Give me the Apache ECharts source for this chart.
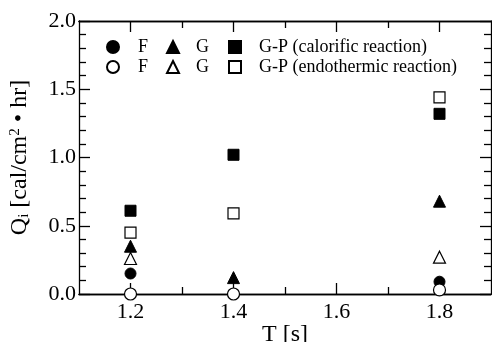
<!DOCTYPE html>
<html>
<head>
<meta charset="utf-8">
<script src="https://cdn.jsdelivr.net/npm/echarts@6/dist/echarts.min.js"></script>
<style>
  html, body { margin: 0; padding: 0; background: #fff; }
  #chart { width: 492px; height: 342px; }
</style>
</head>
<body>
<div id="chart"></div>
<script>
// Heat flux Qi versus wave period T
const periods = [1.2, 1.4, 1.8];

// Calorific reaction (filled markers)
const fCalorific  = [0.15, 0.00, 0.09];
const gCalorific  = [0.35, 0.12, 0.68];
const gpCalorific = [0.61, 1.02, 1.32];

// Endothermic reaction (open markers)
const fEndothermic  = [0.00, 0.00, 0.03];
const gEndothermic  = [0.26, null, 0.27];
const gpEndothermic = [0.45, 0.59, 1.44];

// Axis ticks
const xMajorTicks = [1.2, 1.4, 1.6, 1.8];
const xMinorTicks = [1.3, 1.5, 1.7];

const FONT = '"Liberation Serif", "Times New Roman", serif';

function pairs(vals) {
  return periods.map((t, i) => [t, vals[i]]).filter(p => p[1] !== null);
}

const filled = { color: '#000', borderColor: '#000', borderWidth: 1, opacity: 1 };
const open = { color: '#fff', borderColor: '#000', borderWidth: 1.2, opacity: 1 };

const seriesDefs = [
  { name: 'G-P (calorific reaction)', symbol: 'rect', size: 11, style: filled, data: gpCalorific },
  { name: 'G-P (endothermic reaction)', symbol: 'rect', size: 11, style: open, data: gpEndothermic },
  { name: 'G (calorific)', symbol: 'triangle', size: 12, style: filled, data: gCalorific },
  { name: 'G (endothermic)', symbol: 'triangle', size: 12, style: open, data: gEndothermic },
  { name: 'F (calorific)', symbol: 'circle', size: 11, style: filled, data: fCalorific },
  { name: 'F (endothermic)', symbol: 'circle', size: 12, style: open, data: fEndothermic }
];

const series = seriesDefs.map(d => ({
  type: 'scatter',
  name: d.name,
  symbol: d.symbol,
  symbolSize: d.size,
  itemStyle: d.style,
  emphasis: { disabled: true },
  data: pairs(d.data),
  xAxisIndex: 0,
  yAxisIndex: 0,
  z: 3
}));

// One legend entry per marker, laid out in two rows
const legendSpec = [
  { name: 'F (calorific)', label: 'F', left: 106, top: 38, pad: 14 },
  { name: 'G (calorific)', label: 'G', left: 166, top: 38, pad: 12 },
  { name: 'G-P (calorific reaction)', label: 'G-P (calorific reaction)', left: 228, top: 38, pad: 13 },
  { name: 'F (endothermic)', label: 'F', left: 106, top: 58, pad: 14 },
  { name: 'G (endothermic)', label: 'G', left: 166, top: 58, pad: 12 },
  { name: 'G-P (endothermic reaction)', label: 'G-P (endothermic reaction)', left: 228, top: 58, pad: 13 }
];

const legends = legendSpec.map(l => ({
  data: [l.name],
  left: l.left,
  top: l.top,
  padding: 0,
  itemWidth: 12,
  itemHeight: 12,
  selectedMode: false,
  formatter: () => l.label,
  textStyle: { fontFamily: FONT, fontSize: 18, color: '#000', lineHeight: 18, padding: [0, 0, 0, l.pad] }
}));

const lineStyle = { color: '#000', width: 1.3 };
const xBase = { type: 'value', min: 1.1, max: 1.9, splitLine: { show: false }, axisLine: { show: true, onZero: false, lineStyle } };

function xAxisDef(position, ticks, len, showLabels) {
  return Object.assign({}, xBase, {
    position,
    axisTick: { show: true, inside: true, length: len, customValues: ticks, lineStyle },
    axisLabel: showLabels
      ? { show: true, customValues: xMajorTicks, fontFamily: FONT, fontSize: 22, color: '#000', margin: 7, formatter: v => v.toFixed(1) }
      : { show: false }
  });
}

const xAxes = [
  Object.assign(xAxisDef('bottom', xMajorTicks, 11, true), {
    name: 'T [s]', nameLocation: 'middle', nameGap: 29, nameMoveOverlap: false,
    nameTextStyle: { fontFamily: FONT, fontSize: 24, color: '#000' }
  }),
  xAxisDef('bottom', xMinorTicks, 7, false),
  xAxisDef('top', xMajorTicks, 11, false),
  xAxisDef('top', xMinorTicks, 7, false)
];

function yAxisDef(position, showLabels) {
  return {
    type: 'value', position, min: 0, max: 2, interval: 0.5,
    splitLine: { show: false },
    axisLine: { show: true, onZero: false, lineStyle },
    axisTick: { show: true, inside: true, length: 11, lineStyle },
    minorTick: { show: true, splitNumber: 5, length: 7, lineStyle },
    axisLabel: showLabels
      ? { show: true, fontFamily: FONT, fontSize: 22, color: '#000', margin: 3, formatter: v => v.toFixed(1) }
      : { show: false }
  };
}

const yAxes = [
  Object.assign(yAxisDef('left', true), {
    name: 'Q{sub|i} [cal/cm{sup|2} • hr]',
    nameLocation: 'middle', nameGap: 47, nameMoveOverlap: false,
    nameTextStyle: {
      fontFamily: FONT, fontSize: 24, color: '#000',
      rich: {
        sub: { fontFamily: FONT, fontSize: 15, color: '#000', verticalAlign: 'bottom', padding: [8, 0, 0, 0] },
        sup: { fontFamily: FONT, fontSize: 15, color: '#000', verticalAlign: 'top', padding: [0, 0, 8, 0] }
      }
    }
  }),
  yAxisDef('right', false)
];

const chart = echarts.init(document.getElementById('chart'), null, { renderer: 'canvas' });
chart.setOption({
  animation: false,
  backgroundColor: '#fff',
  grid: { left: 79, right: 1, top: 21, bottom: 48, containLabel: false, outerBoundsMode: 'none' },
  legend: legends,
  xAxis: xAxes,
  yAxis: yAxes,
  series
});
</script>
</body>
</html>
